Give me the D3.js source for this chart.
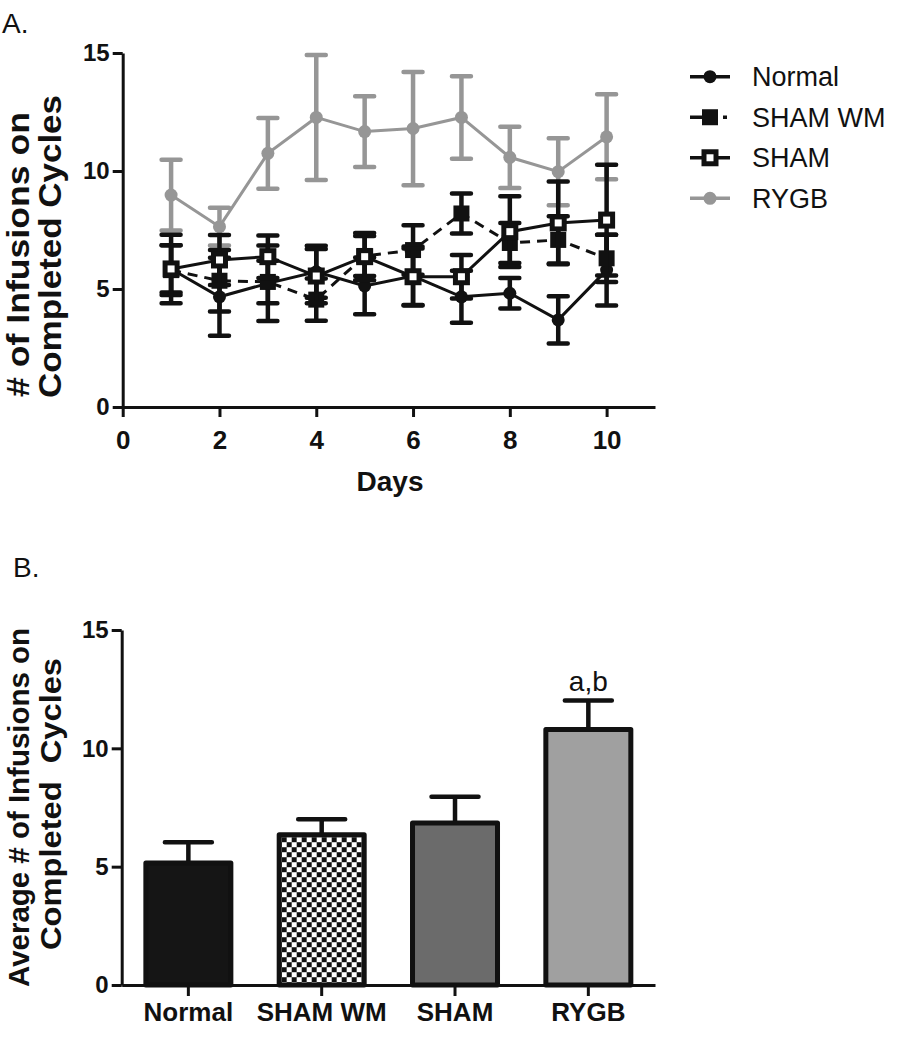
<!DOCTYPE html>
<html><head><meta charset="utf-8">
<script src="https://cdn.jsdelivr.net/npm/d3@7"></script>
<style>
body{margin:0;background:#fff;}
svg{display:block;font-family:"Liberation Sans",Arial,Helvetica,sans-serif;}
</style></head>
<body>
<svg id="chart" width="911" height="1050"></svg>
<script>
// ---------- Data: panel A ----------
const days = [1,2,3,4,5,6,7,8,9,10];
const normalMean = [5.85,4.67,5.24,5.73,5.13,5.55,4.67,4.82,3.69,5.80];
const normalErr  = [1.00,1.65,1.60,1.10,1.20,1.25,1.10,0.65,1.00,1.50];
const shamWMMean = [5.80,5.35,5.30,4.55,6.40,6.65,8.20,6.95,7.08,6.30];
const shamWMErr  = [1.05,1.30,0.90,0.90,0.85,1.05,0.85,0.85,1.00,1.00];
const shamMean   = [5.85,6.23,6.37,5.55,6.37,5.52,5.52,7.43,7.80,7.92];
const shamErr    = [1.45,1.06,0.90,1.15,1.00,1.20,0.92,1.50,1.75,2.35];
const rygbMean   = [8.98,7.64,10.75,12.27,11.67,11.80,12.27,10.58,9.97,11.45];
const rygbErr    = [1.50,0.80,1.50,2.65,1.50,2.40,1.75,1.30,1.42,1.80];
const seriesNames = ["Normal","SHAM WM","SHAM","RYGB"];
const xTicksA = [0,2,4,6,8,10];
const yTicks = [0,5,10,15];

// ---------- Data: panel B ----------
const barCategories = ["Normal","SHAM WM","SHAM","RYGB"];
const barMeans = [5.15,6.35,6.85,10.80];
const barErrs  = [0.88,0.65,1.10,1.22];
const barAnnotations = ["","","","a,b"];

const svg = d3.select("#chart");
const BLACK = "#111", GRAY = "#969696";

function styleAxis(g, fs){
  g.select(".domain").attr("stroke", BLACK).attr("stroke-width", 3);
  g.selectAll(".tick line").attr("stroke", BLACK).attr("stroke-width", 3);
  g.selectAll(".tick text").attr("fill", BLACK).attr("font-size", fs)
    .attr("font-weight", "bold").attr("font-family", "'Liberation Sans',Arial,sans-serif");
}

// ================= Panel A =================
const xA = d3.scaleLinear().domain([0,11]).range([122.7,655]);
const yA = d3.scaleLinear().domain([0,15]).range([407,53]);

svg.append("text").attr("x",2).attr("y",33).attr("font-size",28).attr("fill",BLACK).text("A.");

const gyA = svg.append("g").attr("transform",`translate(${xA(0)},0)`)
  .call(d3.axisLeft(yA).tickValues(yTicks).tickSize(10).tickSizeOuter(0).tickPadding(3));
styleAxis(gyA, 24);
const gxA = svg.append("g").attr("transform",`translate(0,${yA(0)})`)
  .call(d3.axisBottom(xA).tickValues(xTicksA).tickSize(10).tickSizeOuter(0).tickPadding(14));
styleAxis(gxA, 26);

svg.append("text").attr("x",390).attr("y",491).attr("text-anchor","middle")
  .attr("font-size",28).attr("font-weight","bold").attr("fill",BLACK).text("Days");

function rotTitle(lines){
  lines.forEach(l=>{
    svg.append("text")
      .attr("transform",`translate(${l.x},${l.cy}) rotate(-90)`)
      .attr("text-anchor","middle").attr("font-size",l.fs).attr("font-weight","bold")
      .attr("fill",BLACK).attr("textLength",l.len).attr("lengthAdjust","spacingAndGlyphs")
      .attr("xml:space","preserve").style("white-space","pre")
      .text(l.t);
  });
}
rotTitle([
  {t:"# of Infusions on", x:29, cy:254.5, len:285, fs:32},
  {t:"Completed Cycles", x:61, cy:246.5, len:303, fs:32}
]);

const series = [
  {name:"RYGB", mean:rygbMean, err:rygbErr, color:GRAY, dash:null, marker:"circle"},
  {name:"Normal", mean:normalMean, err:normalErr, color:BLACK, dash:null, marker:"circle"},
  {name:"SHAM WM", mean:shamWMMean, err:shamWMErr, color:BLACK, dash:"10,7", marker:"fsquare"},
  {name:"SHAM", mean:shamMean, err:shamErr, color:BLACK, dash:null, marker:"osquare"}
];

function drawMarker(g, type, cx, cy, color){
  if(type==="circle"){
    g.append("circle").attr("cx",cx).attr("cy",cy).attr("r",6.5).attr("fill",color);
  } else if(type==="fsquare"){
    g.append("rect").attr("x",cx-8).attr("y",cy-8).attr("width",16).attr("height",16).attr("fill",color);
  } else {
    g.append("rect").attr("x",cx-6).attr("y",cy-6).attr("width",12).attr("height",12)
      .attr("fill","#fff").attr("stroke",color).attr("stroke-width",5);
  }
}

const line = d3.line().x(d=>xA(d.x)).y(d=>yA(d.y));
series.forEach(s=>{
  const g = svg.append("g");
  const pts = days.map((d,i)=>({x:d, y:s.mean[i], e:s.err[i]}));
  pts.forEach(p=>{
    const cx = xA(p.x), top = yA(p.y+p.e), bot = yA(p.y-p.e), hw = 9.5;
    g.append("path")
      .attr("d",`M${cx},${top}L${cx},${bot}M${cx-hw},${top}L${cx+hw},${top}M${cx-hw},${bot}L${cx+hw},${bot}`)
      .attr("stroke",s.color).attr("stroke-width",4.5).attr("stroke-linecap","round").attr("fill","none");
  });
  g.append("path").datum(pts).attr("d",line).attr("fill","none")
    .attr("stroke",s.color).attr("stroke-width",3)
    .attr("stroke-dasharray",s.dash);
  pts.forEach(p=>drawMarker(g,s.marker,xA(p.x),yA(p.y),s.color));
});

// legend
const legendY = d3.scalePoint().domain(seriesNames).range([76.7,198.3]);
const legendStyle = {
  "Normal":{color:BLACK, dash:null, marker:"circle"},
  "SHAM WM":{color:BLACK, dash:"20,13,4,20", marker:"fsquare"},
  "SHAM":{color:BLACK, dash:null, marker:"osquare"},
  "RYGB":{color:GRAY, dash:null, marker:"circle"}
};
seriesNames.forEach(n=>{
  const st = legendStyle[n], y = legendY(n);
  const g = svg.append("g");
  g.append("line").attr("x1",690).attr("x2",730).attr("y1",y).attr("y2",y)
    .attr("stroke",st.color).attr("stroke-width",3.5).attr("stroke-dasharray",st.dash);
  drawMarker(g, st.marker, 710, y, st.color);
  g.append("text").attr("x",752).attr("y",y).attr("dy","0.36em")
    .attr("font-size",27).attr("fill",BLACK).text(n);
});

// ================= Panel B =================
const xB = d3.scaleBand().domain(barCategories).range([121.7,655]).paddingInner(0.3625).paddingOuter(0.18125);
const yB = d3.scaleLinear().domain([0,15]).range([985,630]);

svg.append("text").attr("x",13).attr("y",577).attr("font-size",28).attr("fill",BLACK).text("B.");

const defs = svg.append("defs");
const pat = defs.append("pattern").attr("id","checker").attr("patternUnits","userSpaceOnUse")
  .attr("width",10).attr("height",10).attr("x",xB("SHAM WM")+2.5).attr("y",yB(barMeans[1])+2.5);
pat.append("rect").attr("width",10).attr("height",10).attr("fill","#fff");
pat.append("rect").attr("x",0).attr("y",0).attr("width",5).attr("height",5).attr("fill",BLACK);
pat.append("rect").attr("x",5).attr("y",5).attr("width",5).attr("height",5).attr("fill",BLACK);

const barFills = ["#151515","url(#checker)","#6b6b6b","#a0a0a0"];

rotTitle([
  {t:"Average # of Infusions on", x:29, cy:807.5, len:359, fs:30},
  {t:"Completed  Cycles", x:61, cy:804, len:292, fs:30}
]);

const gB = svg.append("g");
barCategories.forEach((c,i)=>{
  const cx = xB(c)+xB.bandwidth()/2;
  const top = yB(barMeans[i]+barErrs[i]);
  gB.append("path")
    .attr("d",`M${cx},${yB(barMeans[i])}L${cx},${top}M${cx-23.5},${top}L${cx+23.5},${top}`)
    .attr("stroke",BLACK).attr("stroke-width",4.5).attr("stroke-linecap","round").attr("fill","none");
  gB.append("rect").attr("x",xB(c)).attr("y",yB(barMeans[i]))
    .attr("width",xB.bandwidth()).attr("height",yB(0)-yB(barMeans[i]))
    .attr("fill",barFills[i]).attr("stroke",BLACK).attr("stroke-width",5).attr("stroke-linejoin","round");
  if(barAnnotations[i]){
    gB.append("text").attr("x",cx).attr("y",yB(barMeans[i]+barErrs[i])-10)
      .attr("text-anchor","middle").attr("font-size",28).attr("fill",BLACK).text(barAnnotations[i]);
  }
});

const gyB = svg.append("g").attr("transform",`translate(121.7,0)`)
  .call(d3.axisLeft(yB).tickValues(yTicks).tickSize(10).tickSizeOuter(0).tickPadding(3));
styleAxis(gyB, 24);
const gxB = svg.append("g").attr("transform",`translate(0,${yB(0)})`)
  .call(d3.axisBottom(xB).tickSize(11).tickSizeOuter(0).tickPadding(7));
styleAxis(gxB, 26);
</script>
</body></html>
